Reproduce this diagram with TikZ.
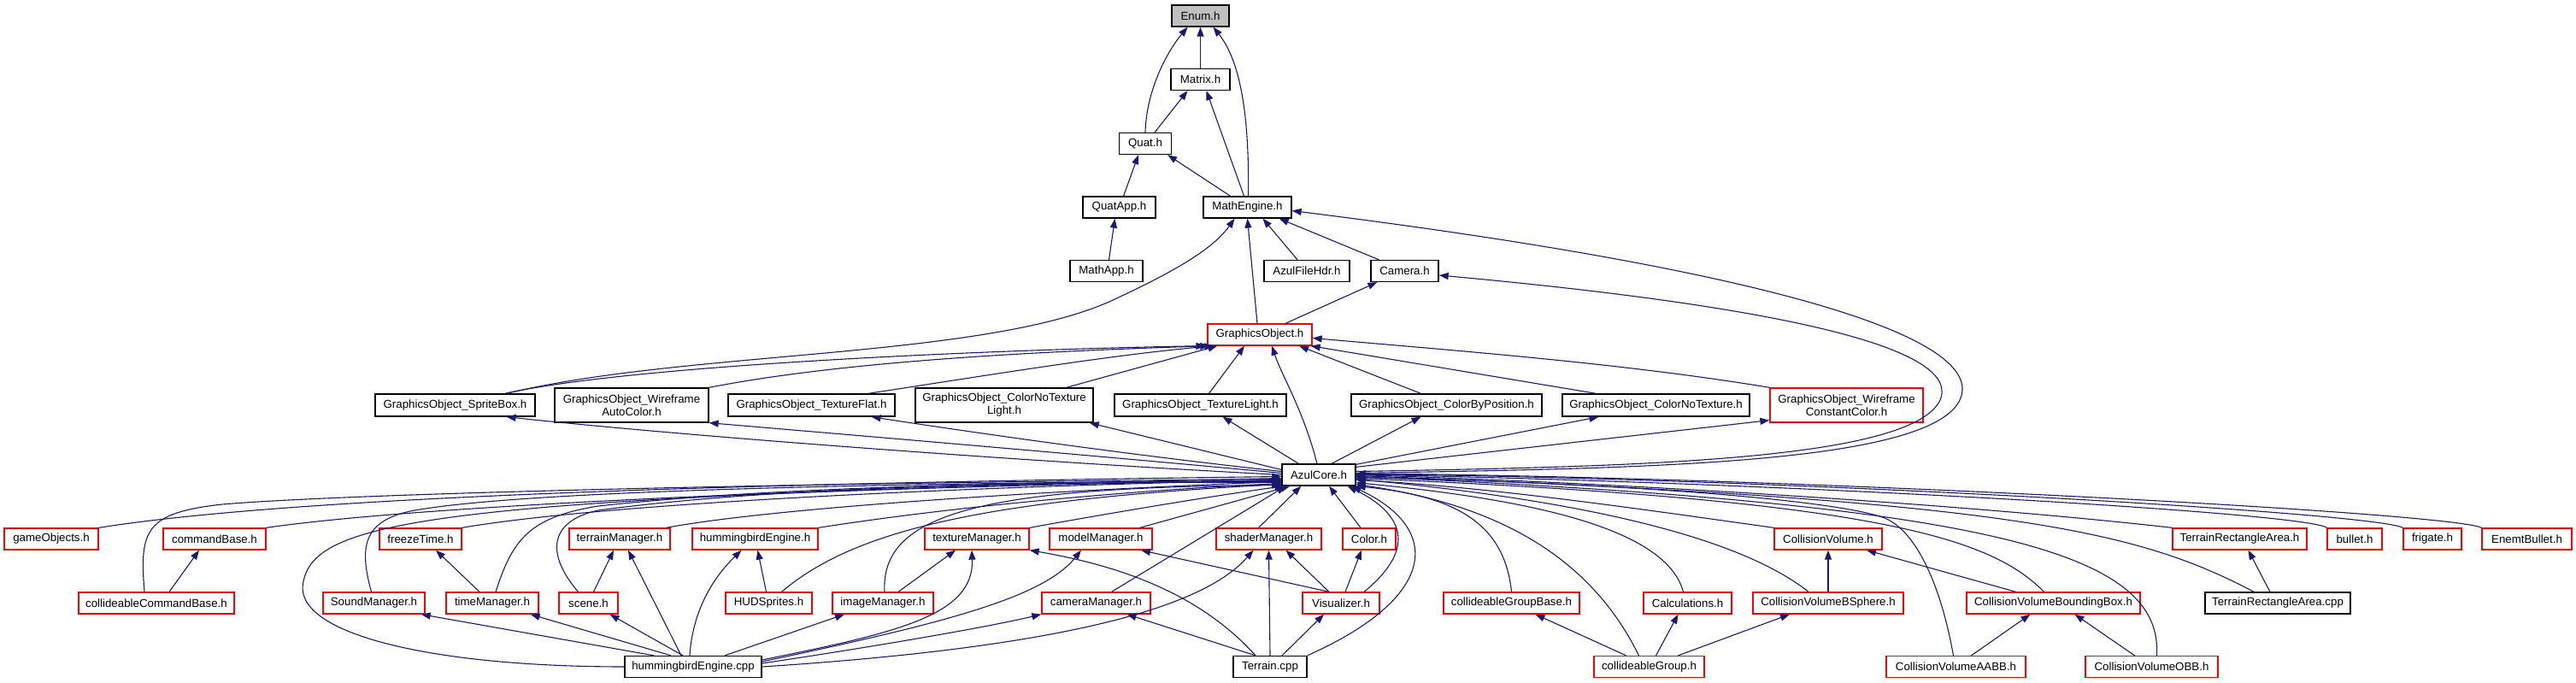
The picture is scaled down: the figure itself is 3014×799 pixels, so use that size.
\documentclass[tikz,border=0pt]{standalone}
\usepackage{fontspec}
\setmainfont{Liberation Sans}
\usetikzlibrary{arrows.meta}
\definecolor{edgec}{RGB}{25,25,112}
\definecolor{redb}{RGB}{255,0,0}
\definecolor{grayf}{RGB}{191,191,191}
\tikzset{
 nd/.style={draw=black, line width=1.3pt, fill=white, inner sep=0pt, minimum height=25pt, align=center, font=\fontsize{13.3}{15}\selectfont},
 rnd/.style={nd, draw=redb},
 tall/.style={minimum height=40pt},
 dep/.style={draw=edgec, line width=1.1pt, -{Triangle[length=11pt,width=8pt]}},
}
\begin{document}
\begin{tikzpicture}[x=1pt,y=-1pt]
\fill[white] (0,0) rectangle (3014,799);
\useasboundingbox (0,0) rectangle (3014,799);
% ---------- nodes ----------
\node[nd,fill=grayf,minimum width=67pt] (enum) at (1404.5,18.5) {Enum.h};
\node[nd,minimum width=69pt] (matrix) at (1404.5,93) {Matrix.h};
\node[nd,minimum width=61pt] (quat) at (1340,168) {Quat.h};
\node[nd,minimum width=85pt] (quatapp) at (1309.5,242.5) {QuatApp.h};
\node[nd,minimum width=103pt] (mathengine) at (1459.5,242.5) {MathEngine.h};
\node[nd,minimum width=85pt] (mathapp) at (1294.5,317) {MathApp.h};
\node[nd,minimum width=100pt] (azulfilehdr) at (1529,317) {AzulFileHdr.h};
\node[nd,minimum width=79pt] (camera) at (1643.5,317) {Camera.h};
\node[rnd,minimum width=122pt] (gobj) at (1474,391.5) {GraphicsObject.h};
\node[nd,minimum width=187pt,minimum height=26pt] (gosprite) at (532.5,474) {GraphicsObject\_SpriteBox.h};
\node[nd,tall,minimum width=180pt] (gowireauto) at (739,474) {GraphicsObject\_Wireframe\\AutoColor.h};
\node[nd,minimum width=195pt,minimum height=26pt] (gotexflat) at (949.5,474) {GraphicsObject\_TextureFlat.h};
\node[nd,tall,minimum width=208pt] (gocntlight) at (1175,474) {GraphicsObject\_ColorNoTexture\\Light.h};
\node[nd,minimum width=201pt,minimum height=26pt] (gotexlight) at (1404.5,474) {GraphicsObject\_TextureLight.h};
\node[nd,minimum width=223pt,minimum height=26pt] (gocolorpos) at (1692.5,474) {GraphicsObject\_ColorByPosition.h};
\node[nd,minimum width=219pt,minimum height=26pt] (gocnt) at (1937.5,474) {GraphicsObject\_ColorNoTexture.h};
\node[rnd,tall,minimum width=179pt] (gowireconst) at (2160.5,474) {GraphicsObject\_Wireframe\\ConstantColor.h};
\node[nd,minimum width=86pt] (azulcore) at (1543,555.5) {AzulCore.h};
% rank 8
\node[rnd,minimum width=110pt] (gameobj) at (60,630.5) {gameObjects.h};
\node[rnd,minimum width=120pt] (cmdbase) at (251,630.5) {commandBase.h};
\node[rnd,minimum width=96pt] (freeze) at (492,630.5) {freezeTime.h};
\node[rnd,minimum width=118pt] (terrainmgr) at (725,630.5) {terrainManager.h};
\node[rnd,minimum width=147pt] (hbengineh) at (883.5,630.5) {hummingbirdEngine.h};
\node[rnd,minimum width=122pt] (texmgr) at (1143,630.5) {textureManager.h};
\node[rnd,minimum width=120pt] (modelmgr) at (1288,630.5) {modelManager.h};
\node[rnd,minimum width=123pt] (shadermgr) at (1484.5,630.5) {shaderManager.h};
\node[rnd,minimum width=62pt] (color) at (1602,630.5) {Color.h};
\node[rnd,minimum width=126pt] (collvol) at (2139,630.5) {CollisionVolume.h};
\node[rnd,minimum width=157pt] (trah) at (2620.5,630.5) {TerrainRectangleArea.h};
\node[rnd,minimum width=64pt] (bullet) at (2755,630.5) {bullet.h};
\node[rnd,minimum width=68pt] (frigate) at (2846,630.5) {frigate.h};
\node[rnd,minimum width=105pt] (enemt) at (2956.5,630.5) {EnemtBullet.h};
% rank 9
\node[rnd,minimum width=182pt] (collcmd) at (183,705.5) {collideableCommandBase.h};
\node[rnd,minimum width=119pt] (sound) at (437.5,705.5) {SoundManager.h};
\node[rnd,minimum width=108pt] (timemgr) at (576,705.5) {timeManager.h};
\node[rnd,minimum width=69pt] (scene) at (688.5,705.5) {scene.h};
\node[rnd,minimum width=101pt] (hud) at (899.5,705.5) {HUDSprites.h};
\node[rnd,minimum width=118pt] (imagemgr) at (1033,705.5) {imageManager.h};
\node[rnd,minimum width=127pt] (cammgr) at (1282.5,705.5) {cameraManager.h};
\node[rnd,minimum width=90pt] (visual) at (1569,705.5) {Visualizer.h};
\node[rnd,minimum width=159pt] (cgbase) at (1768.5,705.5) {collideableGroupBase.h};
\node[rnd,minimum width=103pt] (calc) at (1974.5,705.5) {Calculations.h};
\node[rnd,minimum width=176pt] (cvbs) at (2139,705.5) {CollisionVolumeBSphere.h};
\node[rnd,minimum width=203pt] (cvbb) at (2402.5,705.5) {CollisionVolumeBoundingBox.h};
\node[nd,minimum width=170pt] (tracpp) at (2665,705.5) {TerrainRectangleArea.cpp};
% rank 10
\node[nd,minimum width=160pt] (hbcpp) at (811,780) {hummingbirdEngine.cpp};
\node[nd,minimum width=86pt] (terraincpp) at (1486,780) {Terrain.cpp};
\node[rnd,minimum width=129pt] (cgroup) at (1929.5,780) {collideableGroup.h};
\node[rnd,minimum width=163pt] (aabb) at (2288.5,780) {CollisionVolumeAABB.h};
\node[rnd,minimum width=155pt] (obb) at (2517.5,780) {CollisionVolumeOBB.h};
% ---------- edges: top ----------
\draw[dep] (matrix.north) -- (enum.south);
\draw[dep] (quat.north) .. controls (1341,110) and (1362,65) .. ([xshift=-15pt]enum.south);
\draw[dep] ([xshift=1pt]mathengine.north) .. controls (1462,130) and (1450,70) .. ([xshift=15pt]enum.south);
\draw[dep] ([xshift=11pt]quat.north) -- ([xshift=-15pt]matrix.south);
\draw[dep] ([xshift=-4pt]mathengine.north) -- ([xshift=7pt]matrix.south);
\draw[dep] ([xshift=-20pt]mathengine.north) -- ([xshift=-5pt]quat.south east);
\draw[dep] ([xshift=5pt]quatapp.north) -- ([xshift=-8pt]quat.south);
\draw[dep] ([xshift=3pt]mathapp.north) -- ([xshift=-5pt]quatapp.south);
\draw[dep] ([xshift=-11pt]azulfilehdr.north) -- ([xshift=18pt]mathengine.south);
\draw[dep] ([xshift=10pt]camera.north west) -- ([xshift=-15pt]mathengine.south east);
\draw[dep] ([xshift=-3pt]gobj.north) -- (mathengine.south);
\draw[dep] ([xshift=-34pt]gosprite.north east) .. controls (800,410) and (1150,420) .. (1300,352) .. controls (1380,315) and (1420,290) .. ([xshift=-15pt]mathengine.south);
\draw[dep] ([xshift=30pt]gobj.north) -- ([xshift=8pt]camera.south west);
\draw[dep] ([yshift=2pt]azulcore.east) .. controls (1900,548) and (2250,545) .. (2292,470) .. controls (2330,400) and (2100,320) .. ([yshift=-4pt]mathengine.east);
\draw[dep] ([yshift=4pt]azulcore.east) .. controls (1900,546) and (2230,540) .. (2269,470) .. controls (2300,410) and (2100,360) .. ([yshift=-5pt]camera.east);
\draw[dep] ([xshift=-2pt]azulcore.north) .. controls (1525,480) and (1500,440) .. ([xshift=14pt]gobj.south);
% GO_* -> GraphicsObject
\draw[dep] ([xshift=10pt]gotexlight.north) -- ([xshift=-18pt]gobj.south);
\draw[dep] ([xshift=-30pt]gocolorpos.north) -- ([xshift=46pt]gobj.south);
\draw[dep] ([xshift=-70pt]gocnt.north) -- ([xshift=-2pt]gobj.south east);
\draw[dep] (gowireconst.north west) .. controls (1900,425) and (1700,410) .. ([yshift=-4pt]gobj.east);
\draw[dep] ([xshift=-36pt]gosprite.north east) .. controls (750,425) and (1200,408) .. ([xshift=-2pt]gobj.south west);
\draw[dep] (gowireauto.north east) .. controls (1000,420) and (1250,410) .. ([xshift=3pt]gobj.south west);
\draw[dep] ([xshift=-32pt]gotexflat.north east) .. controls (1150,440) and (1300,415) .. ([xshift=8pt]gobj.south west);
\draw[dep] ([xshift=-32pt]gocntlight.north east) -- ([xshift=12pt]gobj.south west);
% AzulCore -> GO_*
\draw[dep] (azulcore.west) .. controls (1200,540) and (800,510) .. ([xshift=60pt]gosprite.south);
\draw[dep] ([yshift=2pt]azulcore.west) .. controls (1250,530) and (950,505) .. (gowireauto.south east);
\draw[dep] ([yshift=4pt]azulcore.west) .. controls (1300,530) and (1100,500) .. ([xshift=70pt]gotexflat.south);
\draw[dep] ([yshift=6pt]azulcore.west) -- ([xshift=-5pt]gocntlight.south east);
\draw[dep] ([xshift=20pt]azulcore.north west) -- ([xshift=26pt]gotexlight.south);
\draw[dep] ([xshift=15pt]azulcore.north) -- ([xshift=-30pt]gocolorpos.south);
\draw[dep] ([yshift=-1pt]azulcore.north east) -- ([xshift=-67pt]gocnt.south);
\draw[dep] ([yshift=-4pt]azulcore.north east) -- ([yshift=3pt]gowireconst.south west);
% ---------- edges: bottom, into AzulCore ----------
\draw[dep] (gameobj.north east) .. controls (350,580) and (900,565) .. ([yshift=-2pt]azulcore.west);
\draw[dep] (cmdbase.north east) .. controls (500,590) and (1000,570) .. ([yshift=-4pt]azulcore.west);
\draw[dep] (freeze.north east) .. controls (700,590) and (1100,570) .. ([yshift=-6pt]azulcore.west);
\draw[dep] ([xshift=-5pt]terrainmgr.north east) .. controls (900,595) and (1200,575) .. ([yshift=-8pt]azulcore.west);
\draw[dep] (hbengineh.north east) .. controls (1100,595) and (1300,575) .. ([yshift=-10pt]azulcore.west);
\draw[dep] (texmgr.north east) .. controls (1300,600) and (1420,580) .. ([xshift=3pt]azulcore.south west);
\draw[dep] ([xshift=-15pt]modelmgr.north east) -- ([xshift=10pt]azulcore.south west);
\draw[dep] ([xshift=-12pt]shadermgr.north) -- ([xshift=23pt]azulcore.south west);
\draw[dep] ([xshift=-10pt]color.north) -- ([xshift=12pt]azulcore.south);
\draw[dep] ([xshift=-14pt]collcmd.north) .. controls (163,620) and (170,600) .. (260,590) .. controls (400,578) and (900,565) .. ([yshift=-5pt]azulcore.west);
\draw[dep] ([xshift=-3pt]sound.north) .. controls (420,640) and (425,610) .. (480,598) .. controls (600,575) and (1000,565) .. ([yshift=-7pt]azulcore.west);
\draw[dep] ([xshift=4pt]timemgr.north) .. controls (600,630) and (620,605) .. (700,592) .. controls (900,570) and (1200,563) .. ([yshift=-8pt]azulcore.west);
\draw[dep] ([xshift=-12pt]scene.north) .. controls (640,650) and (640,610) .. (700,597) .. controls (900,570) and (1200,563) .. ([yshift=-9pt]azulcore.west);
\draw[dep] ([xshift=15pt]hud.north) .. controls (1000,620) and (1150,585) .. ([yshift=-11pt]azulcore.west);
\draw[dep] ([xshift=2pt]imagemgr.north) .. controls (1030,600) and (1150,570) .. ([yshift=-12pt]azulcore.west);
\draw[dep] ([xshift=18pt]cammgr.north) -- ([xshift=5pt]azulcore.south west);
\draw[dep] (hbcpp.west) .. controls (500,780) and (340,740) .. (355,680) .. controls (370,610) and (500,580) .. ([yshift=-6pt]azulcore.west);
\draw[dep] ([xshift=27pt]visual.north) .. controls (1660,640) and (1640,600) .. ([xshift=-10pt]azulcore.south east);
\draw[dep] (terraincpp.north east) .. controls (1680,700) and (1690,620) .. ([xshift=-5pt]azulcore.south east);
\draw[dep] (cgbase.north) .. controls (1760,610) and (1700,580) .. (azulcore.south east);
\draw[dep] ([xshift=-12pt]cgroup.north) .. controls (1860,650) and (1750,590) .. ([yshift=2pt]azulcore.south east);
\draw[dep] ([xshift=-5pt]calc.north) .. controls (1950,620) and (1800,585) .. ([yshift=4pt]azulcore.south east);
\draw[dep] (collvol.north west) .. controls (1950,600) and (1750,570) .. ([yshift=-6pt]azulcore.east);
\draw[dep] ([xshift=-23pt]cvbs.north) .. controls (2050,640) and (1900,590) .. ([yshift=-5pt]azulcore.east);
\draw[dep] ([xshift=-11pt]cvbb.north) .. controls (2330,630) and (2200,585) .. ([yshift=-4pt]azulcore.east);
\draw[dep] ([xshift=-3pt]aabb.north) .. controls (2270,680) and (2240,620) .. (2205,606) .. controls (2150,585) and (1900,565) .. ([yshift=-3pt]azulcore.east);
\draw[dep] ([xshift=6pt]obb.north) .. controls (2530,650) and (2350,590) .. ([yshift=-2pt]azulcore.east);
\draw[dep] ([xshift=-28pt]tracpp.north) .. controls (2500,620) and (2350,585) .. ([yshift=-1pt]azulcore.east);
\draw[dep] (trah.north west) .. controls (2300,590) and (1900,565) .. (azulcore.east);
\draw[dep] (bullet.north west) .. controls (2700,600) and (2100,565) .. ([yshift=0.5pt]azulcore.east);
\draw[dep] (frigate.north west) .. controls (2780,600) and (2100,560) .. ([yshift=1pt]azulcore.east);
\draw[dep] (enemt.north west) .. controls (2870,600) and (2100,558) .. ([yshift=1.5pt]azulcore.east);
% ---------- edges: bottom, lateral ----------
\draw[dep] ([xshift=15pt]collcmd.north) -- ([xshift=-18pt]cmdbase.south);
\draw[dep] ([xshift=-15pt]timemgr.north) -- ([xshift=18pt]freeze.south);
\draw[dep] ([xshift=6pt]scene.north) -- ([xshift=-7pt]terrainmgr.south);
\draw[dep] ([xshift=-14pt]hbcpp.north) -- ([xshift=10pt]terrainmgr.south);
\draw[dep] ([xshift=-46pt]hbcpp.north) -- ([xshift=-5pt]sound.south east);
\draw[dep] ([xshift=-26pt]hbcpp.north) -- ([xshift=-10pt]timemgr.south east);
\draw[dep] ([xshift=-12pt]hbcpp.north) -- ([xshift=25pt]scene.south);
\draw[dep] ([xshift=-4pt]hbcpp.north) .. controls (810,720) and (830,680) .. ([xshift=-16pt]hbengineh.south);
\draw[dep] ([xshift=-3pt]hud.north) -- ([xshift=3pt]hbengineh.south);
\draw[dep] ([xshift=37pt]hbcpp.north) -- ([xshift=-45pt]imagemgr.south);
\draw[dep] ([xshift=18pt]imagemgr.north) -- ([xshift=-25pt]texmgr.south);
\draw[dep] ([yshift=8pt]hbcpp.east) .. controls (1050,740) and (1140,720) .. ([xshift=-6pt]texmgr.south);
\draw[dep] ([yshift=6pt]hbcpp.east) .. controls (1100,730) and (1220,700) .. ([xshift=-23pt]modelmgr.south);
\draw[dep] ([yshift=4pt]hbcpp.east) .. controls (1000,760) and (1150,735) .. (cammgr.south west);
\draw[dep] (hbcpp.east) .. controls (1200,760) and (1400,720) .. ([xshift=-18pt]shadermgr.south);
\draw[dep] ([xshift=-17pt]terraincpp.north) .. controls (1400,690) and (1300,660) .. (texmgr.south east);
\draw[dep] ([xshift=-17pt]terraincpp.north) -- ([xshift=36pt]cammgr.south);
\draw[dep] (terraincpp.north) -- (shadermgr.south);
\draw[dep] ([xshift=14pt]terraincpp.north) -- ([xshift=-20pt]visual.south);
\draw[dep] ([xshift=-14pt]visual.north) -- ([xshift=47pt]modelmgr.south);
\draw[dep] ([xshift=-14pt]visual.north) -- ([xshift=20pt]shadermgr.south);
\draw[dep] ([xshift=5pt]visual.north) -- ([xshift=-9pt]color.south);
\draw[dep] ([xshift=-27pt]cgroup.north) -- ([xshift=28pt]cgbase.south);
\draw[dep] ([xshift=8pt]cgroup.north) -- ([xshift=-11pt]calc.south);
\draw[dep] ([xshift=34pt]cgroup.north) -- ([xshift=-45pt]cvbs.south);
\draw[dep] (cvbs.north) -- (collvol.south);
\draw[dep] ([xshift=-44pt]cvbb.north) -- ([xshift=45pt]collvol.south);
\draw[dep] ([xshift=18pt]aabb.north) -- ([xshift=-27pt]cvbb.south);
\draw[dep] ([xshift=-20pt]obb.north) -- ([xshift=25pt]cvbb.south);
\draw[dep] ([xshift=-9pt]tracpp.north) -- ([xshift=10pt]trah.south);
\end{tikzpicture}
\end{document}
